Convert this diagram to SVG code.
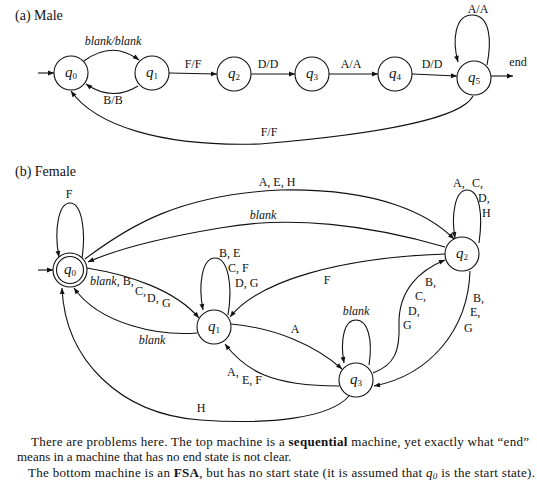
<svg xmlns="http://www.w3.org/2000/svg" width="537" height="489" viewBox="0 0 537 489">
<style>
text{font-family:"Liberation Serif","Times New Roman",serif;fill:#111}
.t{font-size:14px}
.l{font-size:12px}
.i{font-style:italic}
.q{font-size:15px;font-style:italic;text-anchor:middle}
.s{font-size:9px;font-style:normal}
.n{fill:#fff;stroke:#111;stroke-width:1.1}
.e{fill:none;stroke:#111;stroke-width:1.1;marker-end:url(#ah)}
.m{text-anchor:middle}
.b{font-size:13px}
</style>
<defs>
<marker id="ah" viewBox="0 0 10 10" refX="10" refY="5" markerWidth="7" markerHeight="6" orient="auto" markerUnits="userSpaceOnUse"><path d="M0,1 L10,5 L0,9 z" fill="#111"/></marker>
</defs>
<rect width="537" height="489" fill="#fff"/>
<text class="t" x="15" y="20">(a) Male</text>
<text class="t" x="15" y="176">(b) Female</text>

<g id="connectors">
<!-- (a) -->
<path class="e" d="M38,73 L54,73"/>
<path class="e" d="M84,61 Q112,40 139,60"/>
<path class="e" d="M138,86 Q112,102 86,84"/>
<path class="e" d="M169,73 L217,74"/>
<path class="e" d="M251,74 L295,74"/>
<path class="e" d="M329,74 L378,74"/>
<path class="e" d="M412,74 L457,76"/>
<path class="e" d="M487,65 C492,40 490,15 472,15 C455,15 452,40 458,62"/>
<path class="e" d="M491,76 L513,76"/>
<path class="e" d="M473,96 C462,118 380,134 260,144 C160,147 95,125 71,91"/>
<!-- (b) -->
<path class="e" d="M38,270 L53,270"/>
<path class="e" d="M82,258 C86,232 82,203 70,203 C58,203 54,232 59,257"/>
<path class="e" d="M85,259 C130,225 180,195 280,190 C380,188 430,215 454,239"/>
<path class="e" d="M445,247 C370,225 290,215 220,228 C160,238 115,250 88,262"/>
<path class="e" d="M445,254 C340,258 260,280 230,317"/>
<path class="e" d="M228,315 C233,285 228,258 215,258 C202,258 198,285 203,310"/>
<path class="e" d="M87,268 C130,275 175,290 199,318"/>
<path class="e" d="M197,333 C160,336 100,325 74,288"/>
<path class="e" d="M349,396 C330,418 270,425 200,420 C120,414 65,360 62,288"/>
<path class="e" d="M231,324 C275,328 315,345 342,369"/>
<path class="e" d="M339,386 C270,386 245,370 225,344"/>
<path class="e" d="M369,365 C373,340 368,320 356,320 C344,320 340,340 344,363"/>
<path class="e" d="M373,373 C395,365 400,350 399,325 C398,290 420,270 445,260"/>
<path class="e" d="M470,271 C468,330 430,375 374,386"/>
<path class="e" d="M479,243 C483,215 480,190 467,190 C455,190 451,215 455,238"/>
</g>

<g id="edge-labels">
<text class="l i m" x="113" y="45">blank/blank</text>
<text class="l m" x="113" y="104">B/B</text>
<text class="l m" x="193" y="68">F/F</text>
<text class="l m" x="268" y="68">D/D</text>
<text class="l m" x="351" y="68">A/A</text>
<text class="l m" x="432" y="68">D/D</text>
<text class="l m" x="478" y="13">A/A</text>
<text class="l m" x="518" y="66">end</text>
<text class="l m" x="269" y="136">F/F</text>

<text class="l m" x="69" y="198">F</text>
<text class="l m" x="277" y="186">A, E, H</text>
<text class="l i m" x="263" y="219">blank</text>
<text class="l m" x="327" y="284">F</text>
<text class="l" x="219" y="257">B, E</text>
<text class="l" x="228" y="272">C, F</text>
<text class="l" x="235" y="287">D, G</text>
<text class="l" x="90" y="285"><tspan class="i">blank</tspan>, B,</text>
<text class="l" x="135" y="295">C,</text>
<text class="l" x="147" y="302">D,</text>
<text class="l" x="162" y="307">G</text>
<text class="l i m" x="152" y="344">blank</text>
<text class="l m" x="201" y="412">H</text>
<text class="l m" x="295" y="333">A</text>
<text class="l" x="227" y="376">A,</text>
<text class="l" x="242" y="384">E, F</text>
<text class="l i m" x="356" y="315">blank</text>
<text class="l" x="425" y="286">B,</text>
<text class="l" x="415" y="300">C,</text>
<text class="l" x="408" y="315">D,</text>
<text class="l" x="403" y="329">G</text>
<text class="l" x="473" y="302">B,</text>
<text class="l" x="470" y="316">E,</text>
<text class="l" x="464" y="332">G</text>
<text class="l" x="453" y="187">A,</text>
<text class="l" x="472" y="187">C,</text>
<text class="l" x="478" y="202">D,</text>
<text class="l" x="482" y="217">H</text>
</g>

<g id="a-q0"><circle class="n" cx="71" cy="73" r="17"/><text class="q" x="71" y="77">q<tspan class="s" dy="2">0</tspan></text></g>
<g id="a-q1"><circle class="n" cx="152" cy="73" r="17"/><text class="q" x="152" y="77">q<tspan class="s" dy="2">1</tspan></text></g>
<g id="a-q2"><circle class="n" cx="234" cy="74" r="17"/><text class="q" x="234" y="78">q<tspan class="s" dy="2">2</tspan></text></g>
<g id="a-q3"><circle class="n" cx="312" cy="74" r="17"/><text class="q" x="312" y="78">q<tspan class="s" dy="2">3</tspan></text></g>
<g id="a-q4"><circle class="n" cx="395" cy="74" r="17"/><text class="q" x="395" y="78">q<tspan class="s" dy="2">4</tspan></text></g>
<g id="a-q5"><circle class="n" cx="474" cy="78" r="17"/><text class="q" x="474" y="82">q<tspan class="s" dy="2">5</tspan></text></g>

<g id="b-q0"><circle class="n" cx="70" cy="270" r="17"/><circle class="n" cx="70" cy="270" r="13.5"/><text class="q" x="70" y="274">q<tspan class="s" dy="2">0</tspan></text></g>
<g id="b-q1"><circle class="n" cx="214" cy="327" r="17"/><text class="q" x="214" y="331">q<tspan class="s" dy="2">1</tspan></text></g>
<g id="b-q2"><circle class="n" cx="462" cy="254" r="17"/><text class="q" x="462" y="258">q<tspan class="s" dy="2">2</tspan></text></g>
<g id="b-q3"><circle class="n" cx="356" cy="380" r="17"/><text class="q" x="356" y="384">q<tspan class="s" dy="2">3</tspan></text></g>

<g id="caption">
<text class="b" x="31" y="446" textLength="498" lengthAdjust="spacing">There are problems here. The top machine is a <tspan font-weight="bold">sequential</tspan> machine, yet exactly what “end”</text>
<text class="b" x="17" y="461">means in a machine that has no end state is not clear.</text>
<text class="b" x="28" y="477" textLength="507" lengthAdjust="spacing">The bottom machine is an <tspan font-weight="bold">FSA</tspan>, but has no start state (it is assumed that <tspan font-style="italic">q</tspan><tspan font-style="italic" font-size="9" dy="2">0</tspan><tspan dy="-2"> is the start state).</tspan></text>
</g>
</svg>
